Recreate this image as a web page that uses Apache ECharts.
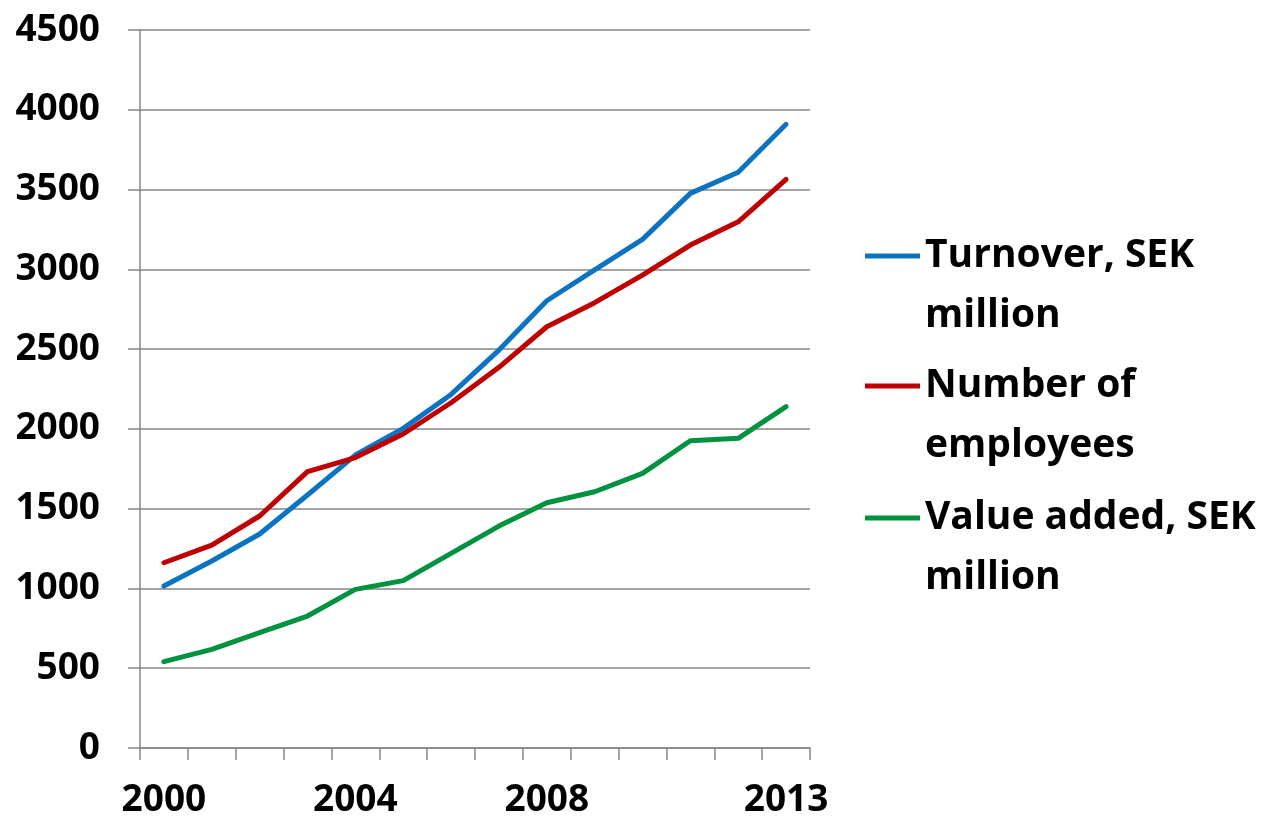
<!DOCTYPE html>
<html>
<head>
<meta charset="utf-8">
<script src="https://cdn.jsdelivr.net/npm/echarts@6/dist/echarts.min.js"></script>
<style>
html,body{margin:0;padding:0;background:#fff;}
#chart{width:1272px;height:819px;}
</style>
</head>
<body>
<div id="chart"></div>
<script>
const years = ['2000','2001','2002','2003','2004','2005','2006','2007','2008','2009','2010','2011','2012','2013'];
const shownYears = ['2000','2004','2008','2013'];
const turnover = [1015, 1172, 1341, 1586, 1836, 2003, 2216, 2494, 2803, 2996, 3188, 3476, 3608, 3909];
const employees = [1161, 1272, 1454, 1732, 1820, 1968, 2164, 2386, 2640, 2791, 2964, 3152, 3298, 3564];
const valueAdded = [541, 618, 723, 827, 994, 1049, 1220, 1391, 1537, 1606, 1721, 1926, 1941, 2139];
const seriesNames = ['Turnover, SEK\nmillion', 'Number of\nemployees', 'Value added, SEK\nmillion'];
const seriesColors = ['#0A74C2', '#C00000', '#00923F'];
const yTicks = { min: 0, max: 4500, interval: 500 };

const FONT = '"Open Sans", "Liberation Sans", sans-serif';
const dataSets = [turnover, employees, valueAdded];
const legendCenters = [256, 386, 518];
const LH = 60;

const chart = echarts.init(document.getElementById('chart'), null, { renderer: 'canvas' });
chart.setOption({
  animation: false,
  backgroundColor: '#ffffff',
  grid: { left: 140, right: 462, top: 30, bottom: 71, containLabel: false },
  legend: seriesNames.map((n, i) => ({
    data: [n],
    orient: 'vertical',
    left: 865,
    top: legendCenters[i] - 1.5 * LH,
    padding: 0,
    icon: 'rect',
    itemWidth: 55,
    itemHeight: 5,
    selectedMode: false,
    formatter: (name) => '\n' + name,
    textStyle: { fontFamily: FONT, fontWeight: 'bold', fontSize: 39, color: '#000', lineHeight: LH }
  })),
  xAxis: {
    type: 'category',
    data: years,
    boundaryGap: true,
    axisLine: { show: true, lineStyle: { color: '#868686', width: 1.5 } },
    axisTick: { show: true, length: 12, interval: 0, lineStyle: { color: '#868686', width: 1.5 } },
    axisLabel: {
      interval: (idx, val) => shownYears.includes(val),
      margin: 34,
      fontFamily: FONT, fontWeight: 'bold', fontSize: 37, color: '#000'
    },
    splitLine: { show: false }
  },
  yAxis: {
    type: 'value',
    min: yTicks.min, max: yTicks.max, interval: yTicks.interval,
    axisLine: { show: true, lineStyle: { color: '#868686', width: 1.5 } },
    axisTick: { show: true, length: 12, lineStyle: { color: '#868686', width: 1.5 } },
    axisLabel: { margin: 40, formatter: (v) => String(v), fontFamily: FONT, fontWeight: 'bold', fontSize: 37, color: '#000' },
    splitLine: { show: true, lineStyle: { color: '#868686', width: 1.5 } }
  },
  series: dataSets.map((d, i) => ({
    name: seriesNames[i],
    type: 'line',
    data: d,
    symbol: 'none',
    smooth: false,
    lineStyle: { color: seriesColors[i], width: 5, cap: 'round', join: 'round' },
    itemStyle: { color: seriesColors[i] }
  }))
});
</script>
</body>
</html>
